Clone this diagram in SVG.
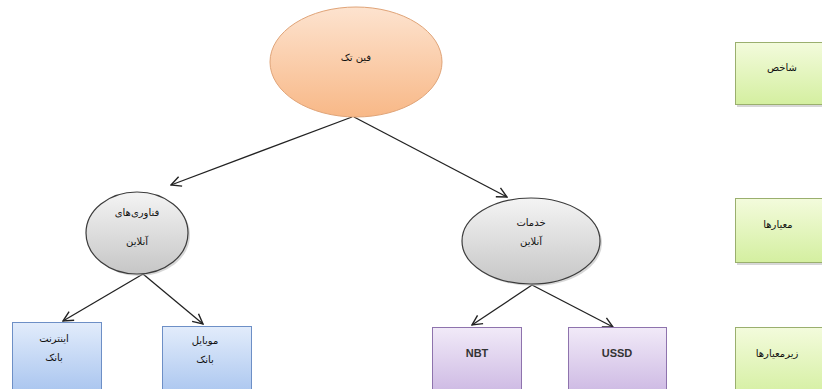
<svg xmlns="http://www.w3.org/2000/svg" width="822" height="389" viewBox="0 0 822 389">
<defs>
<linearGradient id="gOrange" x1="0" y1="0" x2="0" y2="1"><stop offset="0" stop-color="#fde3cf"/><stop offset="1" stop-color="#f8b887"/></linearGradient>
<linearGradient id="gGray" x1="0" y1="0" x2="0" y2="1"><stop offset="0" stop-color="#f4f4f4"/><stop offset="1" stop-color="#c6c6c6"/></linearGradient>
<linearGradient id="gBlue" x1="0" y1="0" x2="0" y2="1"><stop offset="0" stop-color="#e2ecfb"/><stop offset="1" stop-color="#a9c5ef"/></linearGradient>
<linearGradient id="gPurple" x1="0" y1="0" x2="0" y2="1"><stop offset="0" stop-color="#f1eaf8"/><stop offset="1" stop-color="#cbb6e2"/></linearGradient>
<linearGradient id="gGreen" x1="0" y1="0" x2="0" y2="1"><stop offset="0" stop-color="#f3fbdc"/><stop offset="1" stop-color="#d4efa0"/></linearGradient>
<marker id="arr" viewBox="0 0 12 12" refX="11" refY="6" markerWidth="12" markerHeight="12" markerUnits="userSpaceOnUse" orient="auto">
<path d="M1,1 L11,6 L1,11" fill="none" stroke="#222" stroke-width="1.4"/>
</marker>
</defs>
<style>
text{font-family:"DejaVu Sans","Liberation Sans",sans-serif;font-size:10px;fill:#111;text-anchor:middle}
.lat{font-family:"Liberation Sans",Arial,sans-serif;font-size:11px;font-weight:bold;fill:#333}
.conn line{stroke:#222;stroke-width:1.3;marker-end:url(#arr)}
.orange{fill:url(#gOrange);stroke:#e0a478;stroke-width:1}
.gray{fill:url(#gGray);stroke:#3c3c3c;stroke-width:1.2}
.blue{fill:url(#gBlue);stroke:#6d8fc6;stroke-width:1}
.purple{fill:url(#gPurple);stroke:#8e73ad;stroke-width:1}
.green{fill:url(#gGreen);stroke:#9aaf6e;stroke-width:1}
.shadow{fill:#b0b0b0;opacity:0.5}
</style>
<rect width="822" height="389" fill="#ffffff"/>

<g id="conn" class="conn">
<line x1="352" y1="117" x2="171" y2="185"/>
<line x1="354" y1="117" x2="507" y2="197"/>
<line x1="143" y1="274" x2="63" y2="321"/>
<line x1="143" y1="274" x2="203" y2="324"/>
<line x1="532" y1="285" x2="472" y2="325"/>
<line x1="532" y1="285" x2="613" y2="327"/>
</g>

<g id="fintech">
<ellipse class="orange" cx="356" cy="62" rx="86" ry="55"/>
<text x="356" y="61">فین تک</text>
</g>

<g id="online-tech">
<ellipse class="shadow" cx="139" cy="235" rx="51" ry="41"/>
<ellipse class="gray" cx="137" cy="233" rx="51" ry="41"/>
<text x="137" y="216">فناوری‌های</text>
<text x="137" y="245">آنلاین</text>
</g>

<g id="online-services">
<ellipse class="shadow" cx="533" cy="243" rx="69" ry="43"/>
<ellipse class="gray" cx="531" cy="241" rx="69" ry="43"/>
<text x="531" y="226">خدمات</text>
<text x="531" y="245">آنلاین</text>
</g>

<g id="internet-bank">
<rect class="blue" x="12.5" y="322.5" width="89" height="70"/>
<text x="54" y="342">اینترنت</text>
<text x="54" y="361">بانک</text>
</g>

<g id="mobile-bank">
<rect class="blue" x="162.5" y="326.5" width="89" height="70"/>
<text x="205" y="344">موبایل</text>
<text x="205" y="363">بانک</text>
</g>

<g id="nbt">
<rect class="purple" x="432.5" y="327.5" width="89" height="70"/>
<text class="lat" x="477" y="357">NBT</text>
</g>

<g id="ussd">
<rect class="purple" x="568.5" y="327.5" width="98" height="70"/>
<text class="lat" x="617" y="357">USSD</text>
</g>

<g id="index">
<rect class="shadow" x="737" y="44" width="95" height="63"/>
<rect class="green" x="735.5" y="42.5" width="95" height="62"/>
<text x="782" y="71">شاخص</text>
</g>

<g id="criteria">
<rect class="shadow" x="737" y="200" width="95" height="65"/>
<rect class="green" x="735.5" y="198.5" width="95" height="64"/>
<text x="778" y="228">معیارها</text>
</g>

<g id="subcriteria">
<rect class="shadow" x="737" y="329" width="95" height="65"/>
<rect class="green" x="735.5" y="327.5" width="95" height="70"/>
<text x="777" y="357">زیرمعیارها</text>
</g>
</svg>
